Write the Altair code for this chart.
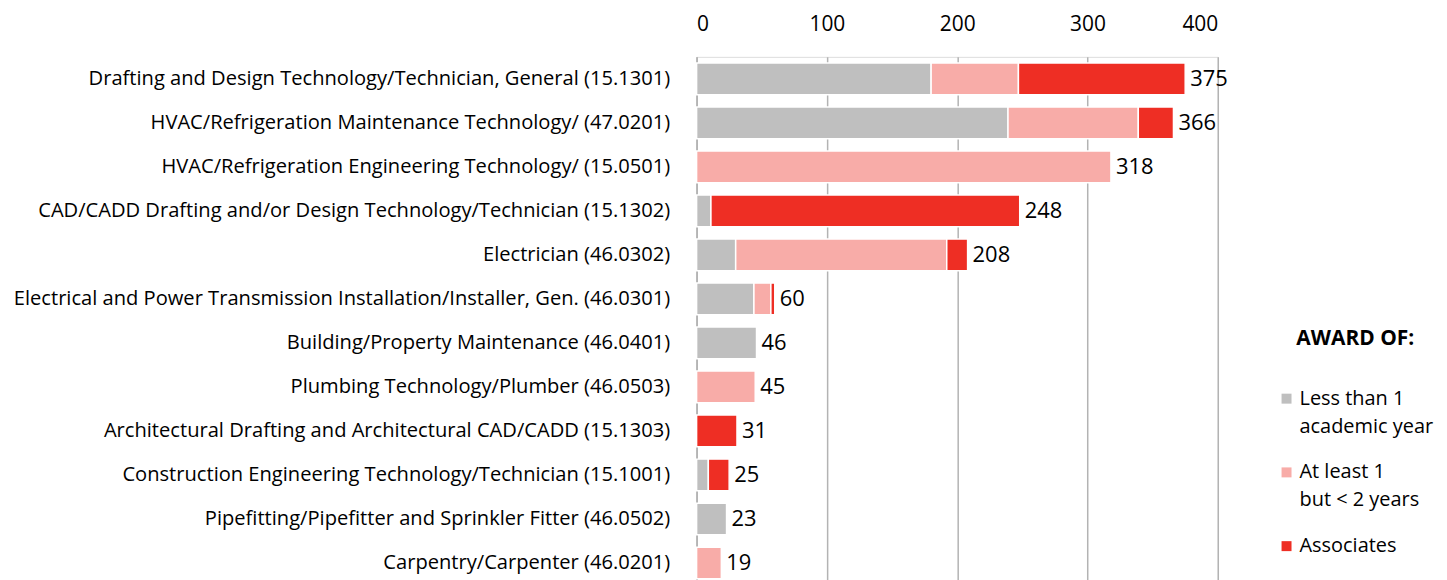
import altair as alt
import pandas as pd

categories = [
    "Drafting and Design Technology/Technician, General (15.1301)",
    "HVAC/Refrigeration Maintenance Technology/ (47.0201)",
    "HVAC/Refrigeration Engineering Technology/ (15.0501)",
    "CAD/CADD Drafting and/or Design Technology/Technician (15.1302)",
    "Electrician (46.0302)",
    "Electrical and Power Transmission Installation/Installer, Gen. (46.0301)",
    "Building/Property Maintenance (46.0401)",
    "Plumbing Technology/Plumber (46.0503)",
    "Architectural Drafting and Architectural CAD/CADD (15.1303)",
    "Construction Engineering Technology/Technician (15.1001)",
    "Pipefitting/Pipefitter and Sprinkler Fitter (46.0502)",
    "Carpentry/Carpenter (46.0201)",
]
award_types = ["Less than 1|academic year", "At least 1|but < 2 years", "Associates"]
award_colors = ["#bfbfbf", "#f8aca8", "#ee2e24"]

less_than_1 = [180, 239, 0, 11, 30, 44, 46, 0, 0, 9, 23, 0]
at_least_1 = [67, 100, 318, 0, 162, 13, 0, 45, 0, 0, 0, 19]
associates = [128, 27, 0, 237, 16, 3, 0, 0, 31, 16, 0, 0]
totals = [375, 366, 318, 248, 208, 60, 46, 45, 31, 25, 23, 19]
x_ticks = [0, 100, 200, 300, 400]

rows = []
for i, c in enumerate(categories):
    for k, vals in enumerate([less_than_1, at_least_1, associates]):
        rows.append({"category": c, "award": award_types[k], "value": vals[i], "order": k})
df = pd.DataFrame(rows)
tot = pd.DataFrame({"category": categories, "total": totals})

FONT = "Open Sans"

y_enc = alt.Y(
    "category:N",
    sort=categories,
    scale=alt.Scale(paddingInner=0.28, paddingOuter=0.14),
    axis=alt.Axis(
        title=None, labelFontSize=20.2, labelFont=FONT, labelColor="#000",
        labelPadding=27, ticks=False, domain=True, domainColor="#b3b3b3",
        domainWidth=1.5, labelLimit=0,
    ),
)

bars = alt.Chart(df).transform_filter("datum.value > 0").mark_bar(
    stroke="white", strokeWidth=1.5
).encode(
    x=alt.X(
        "value:Q", stack="zero",
        scale=alt.Scale(domain=[0, 400]),
        axis=alt.Axis(
            orient="top", values=x_ticks, title=None, grid=True,
            gridColor="#b3b3b3", gridWidth=1.5, ticks=False, domain=False,
            labelFontSize=21, labelFont=FONT, labelColor="#000", labelPadding=22,
        ),
    ),
    y=y_enc,
    color=alt.Color(
        "award:N",
        scale=alt.Scale(domain=award_types, range=award_colors),
        legend=alt.Legend(
            title="AWARD OF:", orient="none", legendX=582, legendY=272,
            titleFont=FONT, titleFontSize=21, titleFontWeight="bold",
            titleColor="#000", titleAnchor="middle", titlePadding=40,
            labelFont=FONT, labelFontSize=20, labelColor="#000",
            labelExpr="split(datum.label, '|')", labelLimit=0, labelOffset=3,
            symbolType="square", symbolSize=100, symbolStrokeWidth=0,
            rowPadding=26,
        ),
    ),
    order=alt.Order("order:Q"),
)

labels = alt.Chart(tot).mark_text(
    align="left", baseline="middle", dx=5, fontSize=22, font=FONT, color="#000"
).encode(
    x=alt.X("total:Q"),
    y=alt.Y("category:N", sort=categories),
    text=alt.Text("total:Q"),
)

chart = (
    (bars + labels)
    .properties(width=523, height=530)
    .configure_view(stroke=None)
    .configure(style={"guide-label": {"lineHeight": 28}})
)

chart.save("out.html", embed_options={"renderer": "svg", "actions": False})
